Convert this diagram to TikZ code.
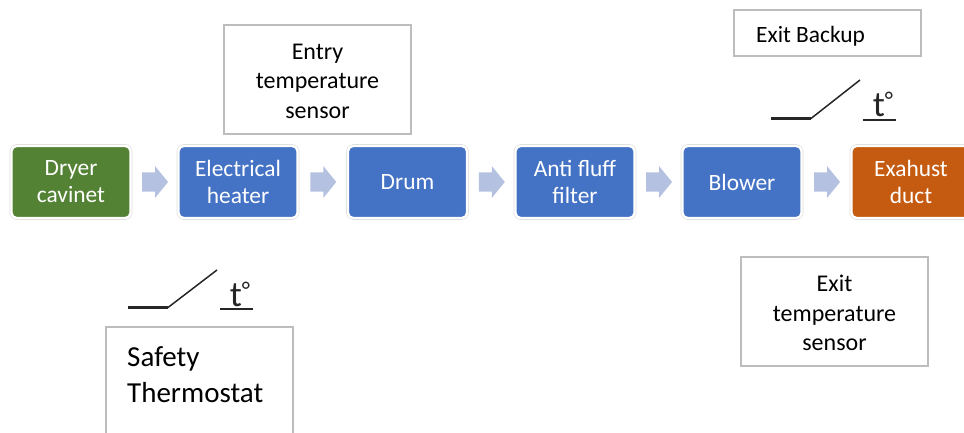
\documentclass[tikz,border=0pt]{standalone}
\usepackage{fontspec}
\setmainfont{Carlito}
\definecolor{blueb}{HTML}{4472C4}
\definecolor{greenb}{HTML}{548235}
\definecolor{orangeb}{HTML}{C55A11}
\definecolor{arrowc}{HTML}{B4C1E0}
\definecolor{edgec}{HTML}{BDBDBD}
\definecolor{haloc}{HTML}{DDDDDD}
\definecolor{inkc}{HTML}{262626}
\tikzset{
  flowbox/.style={draw=white,line width=2.4pt,rounded corners=5pt,minimum width=119pt,minimum height=72pt,outer sep=0pt,
    preaction={draw=haloc,line width=3.6pt},
    anchor=center,text=white,font=\fontsize{23.4}{27}\selectfont,align=center,inner sep=0pt},
  notebox/.style={draw=edgec,line width=1.6pt,fill=white,minimum width=187pt,anchor=north west,inner sep=0pt,outer sep=0pt},
  notetext/.style={inner sep=0pt,text=black,font=\fontsize{24}{29.5}\selectfont,align=center},
  flowarrow/.style={fill=arrowc,draw=none},
  switchbase/.style={draw=inkc,line width=2.4pt},
  switchblade/.style={draw=inkc,line width=1.5pt},
  switchunder/.style={draw=inkc,line width=1.8pt},
  tempmark/.style={anchor=base,inner sep=0pt,text=inkc,font=\fontsize{36}{36}\selectfont}
}
\newcommand{\tempsign}{t\raisebox{8pt}{\fontsize{24}{24}\selectfont °}}
\begin{document}
\begin{tikzpicture}[x=1pt,y=-1pt]
\useasboundingbox (0,0) rectangle (964,433);
\clip (0,0) rectangle (964,433);
\fill[white] (0,0) rectangle (964,433);
% flow boxes
\node[flowbox,fill=greenb] (dryer) at (71,182) {Dryer\\cavinet};
\node[flowbox,fill=blueb] (heater) at (238,182) {Electrical\\heater};
\node[flowbox,fill=blueb] (drum) at (407.5,182) {Drum};
\node[flowbox,fill=blueb] (filter) at (575,182) {Anti fluff\\filter};
\node[flowbox,fill=blueb] (blower) at (742,182) {Blower};
\node[flowbox,fill=orangeb] (duct) at (911,182) {Exahust\\duct};
% block arrows
\path (dryer.east) -- (heater.west) coordinate[midway] (a1);
\path (heater.east) -- (drum.west) coordinate[midway] (a2);
\path (drum.east) -- (filter.west) coordinate[midway] (a3);
\path (filter.east) -- (blower.west) coordinate[midway] (a4);
\path (blower.east) -- (duct.west) coordinate[midway] (a5);
\foreach \p in {a1,a2,a3,a4,a5}{
  \begin{scope}[shift={(\p)}]
    \fill[flowarrow] (-12.5,-9.5) -- (0.5,-9.5) -- (0.5,-16) -- (13.5,0) -- (0.5,16) -- (0.5,9.5) -- (-12.5,9.5) -- cycle;
  \end{scope}
}
% note boxes
\node[notebox,minimum height=109pt] (entry) at (224,25) {};
\node[notetext] (entrytext) at ([yshift=-1.5pt]entry.center) {Entry\\temperature\\sensor};
\node[notebox,minimum height=46pt] (backup) at (734,10) {};
\node[notetext,anchor=base west,font=\fontsize{23.4}{29.5}\selectfont] (backuptext) at (756,43) {Exit Backup};
\node[notebox,minimum height=109pt] (exit) at (741,257) {};
\node[notetext] (exittext) at ([yshift=-1.5pt]exit.center) {Exit\\temperature\\sensor};
\node[notebox,minimum height=130pt] (safety) at (106,327) {};
\node[anchor=north west,inner sep=0pt,align=left,font=\fontsize{29}{36}\selectfont] (safetytext) at (127,346.5) {Safety\\Thermostat};
% switch symbols
\coordinate (s1a) at (771,118.5); \coordinate (s1b) at (811,118.5); \coordinate (s1c) at (860,80);
\coordinate (u1a) at (863,120); \coordinate (u1b) at (896,120);
\draw[switchbase] (s1a) -- (s1b);
\draw[switchblade] (s1b) -- (s1c);
\draw[switchunder] (u1a) -- (u1b);
\node[tempmark] (t1) at (883,117) {\tempsign};
\coordinate (s2a) at (128,307.5); \coordinate (s2b) at (168,307.5); \coordinate (s2c) at (217,270);
\coordinate (u2a) at (220,309); \coordinate (u2b) at (253,309);
\draw[switchbase] (s2a) -- (s2b);
\draw[switchblade] (s2b) -- (s2c);
\draw[switchunder] (u2a) -- (u2b);
\node[tempmark] (t2) at (240,306) {\tempsign};
\end{tikzpicture}
\end{document}
